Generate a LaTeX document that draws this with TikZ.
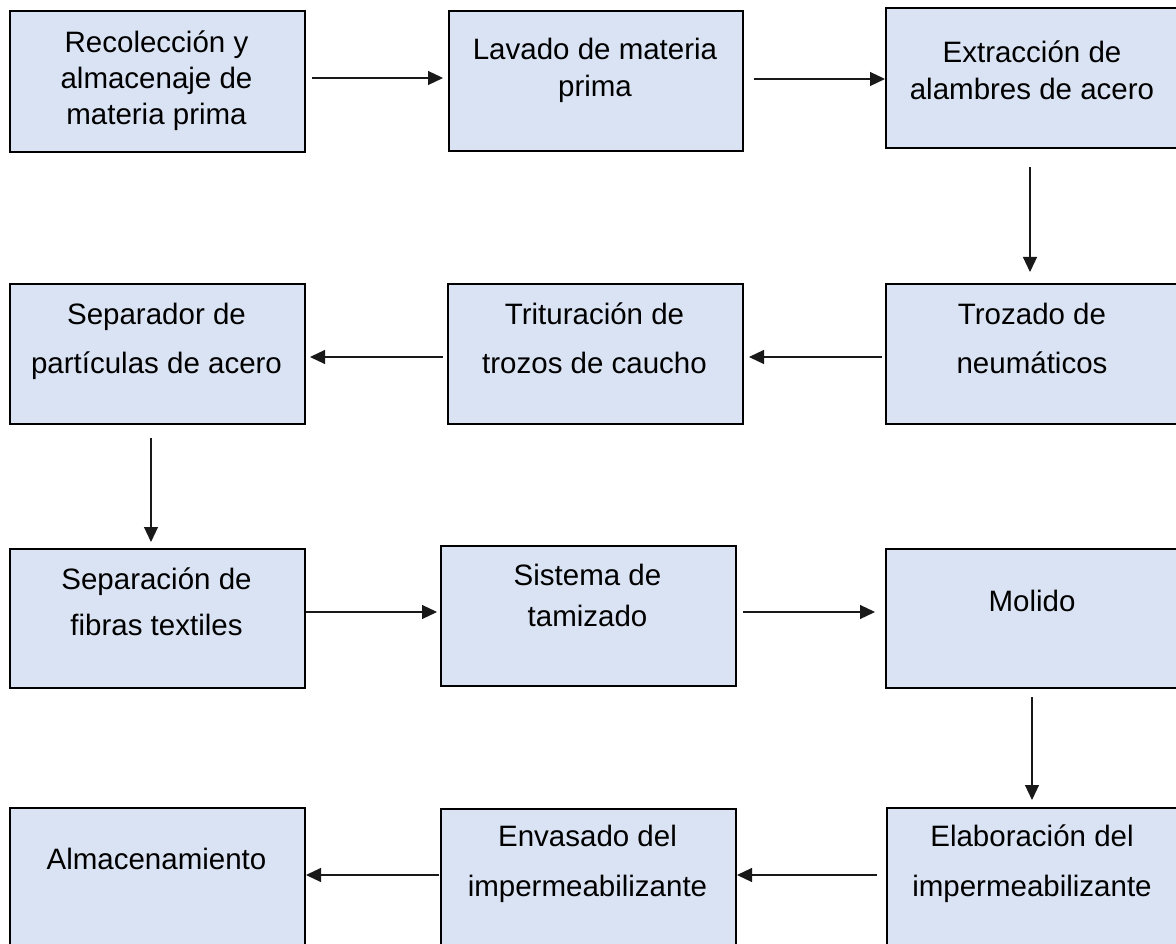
\documentclass[tikz,border=0pt]{standalone}
\usepackage{fontspec}
\setmainfont{Liberation Sans}
\usetikzlibrary{arrows.meta,calc}
\definecolor{boxfill}{RGB}{218,227,243}
\newcommand{\fs}[1]{\fontsize{29.5}{#1}\selectfont}
\newcommand{\st}{\rule{0pt}{24pt}}
\tikzset{
  box/.style={draw=black, line width=2pt, fill=boxfill, anchor=north west, inner sep=0pt},
  txt/.style={anchor=north, inner sep=0pt, align=center},
  arr/.style={draw=black!90, line width=1.2pt, -{Triangle[length=15pt,width=14pt]}}
}
\begin{document}
\begin{tikzpicture}[x=1pt,y=-1pt]
\useasboundingbox (0,0) rectangle (1176,944);
\clip (0,0) rectangle (1176,944);
% boxes
\node[box, minimum width=295pt, minimum height=141pt] (A) at (9,10) {};
\node[box, minimum width=294pt, minimum height=140pt] (B) at (448,10) {};
\node[box, minimum width=295pt, minimum height=140pt] (C) at (885,7) {};
\node[box, minimum width=295pt, minimum height=140pt] (D) at (9,283) {};
\node[box, minimum width=295pt, minimum height=140pt] (E) at (447,283) {};
\node[box, minimum width=295pt, minimum height=140pt] (F) at (885,283) {};
\node[box, minimum width=295pt, minimum height=139pt] (G) at (9,548) {};
\node[box, minimum width=295pt, minimum height=140pt] (H) at (440,545) {};
\node[box, minimum width=295pt, minimum height=139pt] (I) at (885,548) {};
\node[box, minimum width=295pt, minimum height=150pt] (J) at (9,807) {};
\node[box, minimum width=295pt, minimum height=150pt] (K) at (440,808) {};
\node[box, minimum width=294pt, minimum height=150pt] (L) at (886,807) {};
% texts (north = first baseline - 24)
\node[txt, font=\fs{36}] (At) at (156.5,28) {\st Recolección y\\almacenaje de\\materia prima};
\node[txt, font=\fs{37}] (Bt) at (595,35) {\st Lavado de materia\\prima};
\node[txt, font=\fs{37}] (Ct) at (1032,38) {\st Extracción de\\alambres de acero};
\node[txt, font=\fs{49}] (Dt) at (156.5,300) {\st Separador de\\partículas de acero};
\node[txt, font=\fs{49}] (Et) at (594.5,300) {\st Trituración de\\trozos de caucho};
\node[txt, font=\fs{49}] (Ft) at (1032,300) {\st Trozado de\\neumáticos};
\node[txt, font=\fs{46}] (Gt) at (156.5,565) {\st Separación de\\fibras textiles};
\node[txt, font=\fs{41}] (Ht) at (587.5,561) {\st Sistema de\\tamizado};
\node[txt, font=\fs{40}] (It) at (1032,587) {\st Molido};
\node[txt, font=\fs{40}] (Jt) at (156.5,845) {\st Almacenamiento};
\node[txt, font=\fs{50}] (Kt) at (587.5,822) {\st Envasado del\\impermeabilizante};
\node[txt, font=\fs{50}] (Lt) at (1032,822) {\st Elaboración del\\impermeabilizante};
% arrows
\draw[arr] ([xshift=6pt]A.east |- 0,78) -- ([xshift=-5pt]B.west |- 0,78);
\draw[arr] ([xshift=10pt]B.east |- 0,79) -- (C.west |- 0,79);
\draw[arr] (C.south -| 1030,0) ++(0,18) -- ([yshift=11pt]F.north -| 1030,0);
\draw[arr] ([xshift=-3pt]F.west |- 0,357) -- ([xshift=5pt]E.east |- 0,357);
\draw[arr] ([xshift=-4pt]E.west |- 0,357) -- ([xshift=4pt]D.east |- 0,357);
\draw[arr] (D.south -| 151,0) ++(0,13) -- ([yshift=6pt]G.north -| 151,0);
\draw[arr] (G.east |- 0,612) -- ([xshift=-3pt]H.west |- 0,612);
\draw[arr] ([xshift=6pt]H.east |- 0,612) -- ([xshift=-10pt]I.west |- 0,612);
\draw[arr] (I.south -| 1032,0) ++(0,8) -- ([yshift=7pt]L.north -| 1032,0);
\draw[arr] ([xshift=-9pt]L.west |- 0,875) -- (K.east |- 0,875);
\draw[arr] ([xshift=-1pt]K.west |- 0,875) -- (J.east |- 0,875);
\end{tikzpicture}
\end{document}
